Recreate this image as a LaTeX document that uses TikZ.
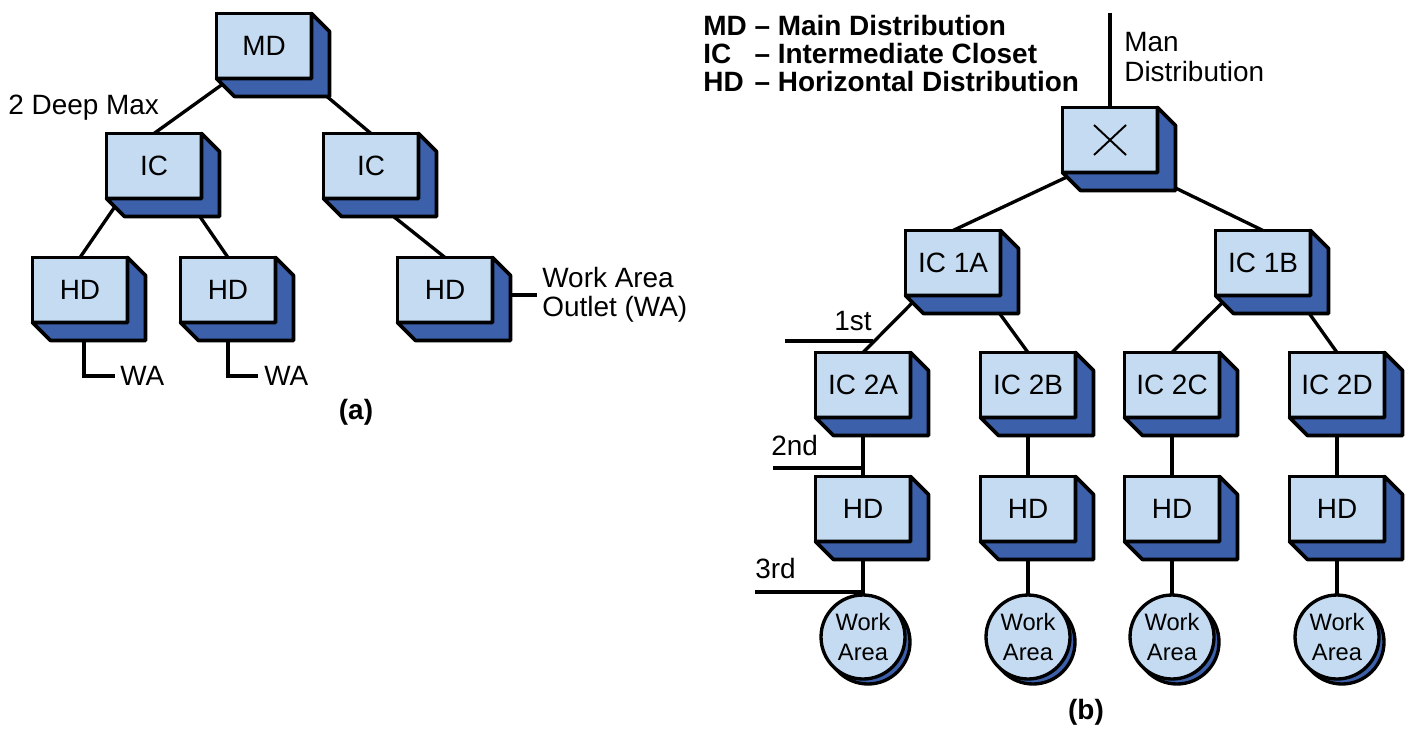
\documentclass[tikz,border=0pt]{standalone}
\usepackage{fontspec}
\setmainfont{Liberation Sans}
\usetikzlibrary{calc}
\definecolor{facec}{HTML}{C4DBF1}
\definecolor{wallc}{HTML}{3C61AA}
\pgfdeclarelayer{back}
\pgfsetlayers{back,main}
\tikzset{
  unit/.style={draw,fill=facec,line width=2.1pt,minimum width=1.9cm,minimum height=1.3cm,inner sep=0pt,outer sep=0pt,font=\fontsize{15.9}{18}\selectfont},
  wall/.style={fill=wallc,draw,line width=2.1pt,line join=round},
  area/.style={circle,draw,fill=facec,line width=1.9pt,minimum size=1.68cm,inner sep=0pt,outer sep=0pt,align=center,font=\fontsize{13.5}{17.4}\selectfont},
  link/.style={line width=1.9pt},
  note/.style={inner sep=0pt,font=\fontsize{15.9}{18}\selectfont},
  caption/.style={inner sep=0pt,font=\bfseries\fontsize{15.9}{18}\selectfont}
}
% box with its dark side wall
\newcommand{\unitbox}[3]{\node[unit] (#1) at (#2) {#3};
\filldraw[wall] (#1.north east) -- ++(18,18) -- ($(#1.south east)+(18,18)$) -- ($(#1.south west)+(18,18)$) -- (#1.south west) -- (#1.south east) -- cycle;}
% round work area with its shadow
\newcommand{\workarea}[2]{\filldraw[wallc,draw=black,line width=1.9pt] ($(#2)+(5,5)$) circle[radius=42];
\node[area] (#1) at (#2) {Work\\Area};}

\begin{document}
\begin{tikzpicture}[x=0.02cm,y=-0.02cm]
\useasboundingbox (0,0) rectangle (1408,733);
% (a)
\unitbox{md}{264,46}{MD}
\unitbox{ica1}{154,166}{IC}\unitbox{ica2}{371,166}{IC}
\unitbox{hda1}{80,290}{HD}\unitbox{hda2}{228,290}{HD}\unitbox{hda3}{445,290}{HD}
\node[note,anchor=base west] (deep) at (8,115) {2 Deep Max};
\node[note,anchor=west,align=left,font=\fontsize{15.9}{16.5}\selectfont] (outlet) at (542,295) {Work Area\\Outlet (WA)};
\node[note,anchor=west] (wa1) at (120,376) {WA};
\node[note,anchor=west] (wa2) at (264,376) {WA};
\node[caption] (capa) at (356,412) {(a)};
\draw[link] ($(hda1.south)+(4,18)$) |- ($(wa1.west)+(-5,0)$);
\draw[link] ($(hda2.south)+(0,18)$) |- ($(wa2.west)+(-6,0)$);
% (b)
\node[anchor=north west,inner sep=0pt,font=\bfseries\fontsize{15.9}{14.2}\selectfont] (legend) at (703,15)
  {\begin{tabular}{@{}l@{\ }l@{}}MD & -- Main Distribution\\IC & -- Intermediate Closet\\HD & -- Horizontal Distribution\end{tabular}};
\unitbox{mdx}{1110,140}{}
\draw[line width=1.1pt] ($(mdx.center)+(-16,-15)$) -- ($(mdx.center)+(16,15)$) ($(mdx.center)+(-16,15)$) -- ($(mdx.center)+(16,-15)$);
\coordinate (feed) at (1110,13);
\node[note,anchor=west,align=left,font=\fontsize{15.9}{17}\selectfont] (feedtxt) at (1124,57) {Man\\Distribution};
\unitbox{ic1a}{953,263}{IC 1A}\unitbox{ic1b}{1263,263}{IC 1B}
\unitbox{ic2a}{863,385}{IC 2A}\unitbox{ic2b}{1028,385}{IC 2B}
\unitbox{ic2c}{1172,385}{IC 2C}\unitbox{ic2d}{1337,385}{IC 2D}
\unitbox{hd2a}{863,509}{HD}\unitbox{hd2b}{1028,509}{HD}
\unitbox{hd2c}{1172,509}{HD}\unitbox{hd2d}{1337,509}{HD}
\workarea{waa}{863,637}\workarea{wab}{1028,637}
\workarea{wac}{1172,637}\workarea{wad}{1337,637}
\node[caption] (capb) at (1086,712) {(b)};
% level marks
\coordinate (lvl1) at (785,341);\coordinate (lvl2) at (773,468);\coordinate (lvl3) at (755,592);
\draw[link] (lvl1) -- ++(88,0);
\draw[link] (lvl2) -- (lvl2 -| ic2a.south);
\draw[link] (lvl3) -- (lvl3 -| hd2a.south);
\node[note,anchor=base east] (first) at (872,330) {1st};
\node[note,anchor=base west] (second) at (771,455) {2nd};
\node[note,anchor=base west] (third) at (755,578) {3rd};
% connectors behind the boxes
\begin{pgfonlayer}{back}
\draw[link] ($(md.south west)+(14,0)$) -- (ica1.north);
\draw[link] ($(md.south east)+(-6,0)$) -- (ica2.north);
\draw[link] ($(ica1.south west)+(14,0)$) -- (hda1.north);
\draw[link] ($(ica1.south east)+(-14,0)$) -- (hda2.north);
\draw[link] (ica2.south) -- (hda3.north);
\draw[link] ($(outlet.west -| hda3.east)+(10,0)$) -- ($(outlet.west)+(-5,0)$);
\draw[link] (feed) -- (mdx.north);
\draw[link] ($(mdx.south west)+(14,0)$) -- (ic1a.north);
\draw[link] ($(mdx.south east)+(-14,0)$) -- (ic1b.north);
\draw[link] ($(ic1a.south west)+(14,0)$) -- (ic2a.north);
\draw[link] ($(ic1a.south east)+(-14,0)$) -- (ic2b.north);
\draw[link] ($(ic1b.south west)+(14,0)$) -- (ic2c.north);
\draw[link] ($(ic1b.south east)+(-14,0)$) -- (ic2d.north);
\draw[link] (ic2a.south) -- (hd2a.north);\draw[link] (ic2b.south) -- (hd2b.north);
\draw[link] (ic2c.south) -- (hd2c.north);\draw[link] (ic2d.south) -- (hd2d.north);
\draw[link] (hd2a.south) -- (waa.north);\draw[link] (hd2b.south) -- (wab.north);
\draw[link] (hd2c.south) -- (wac.north);\draw[link] (hd2d.south) -- (wad.north);
\end{pgfonlayer}
\end{tikzpicture}
\end{document}
